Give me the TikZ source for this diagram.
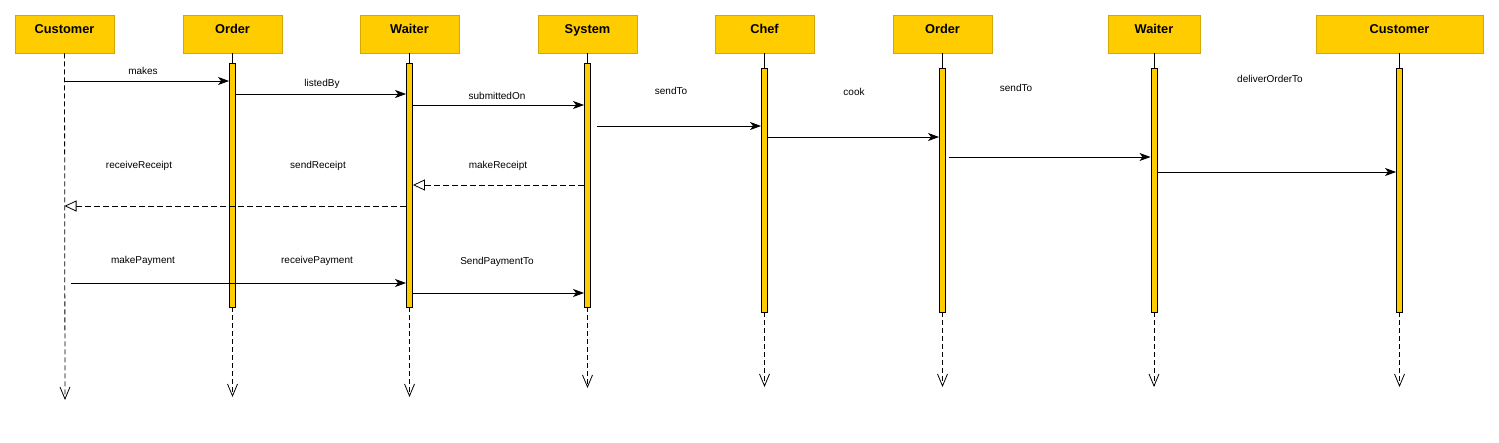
\documentclass[tikz,border=0pt]{standalone}
\usepackage{fontspec}
\setmainfont{Liberation Sans}
\usetikzlibrary{arrows.meta}
\definecolor{lifeyellow}{HTML}{FFCC00}
\definecolor{lifeedge}{HTML}{D4A800}
\tikzset{
    head/.style={draw=lifeedge, fill=lifeyellow, line width=0.9pt, minimum height=38, inner sep=0pt,
        text height=9pt, text depth=10.4pt, font=\fontsize{12.8}{14}\selectfont\bfseries},
    bar/.style={draw=black, fill=lifeyellow, line width=0.9pt, minimum width=6, inner sep=0pt},
    life/.style={line width=0.8pt, dash pattern=on 5pt off 3pt, -{Straight Barb[length=12pt,width=10pt]}},
    msg/.style={line width=0.8pt, -{Stealth[length=11pt,width=8pt,inset=3pt]}},
    reply/.style={line width=0.8pt, dash pattern=on 6pt off 3pt, -{Triangle[open,length=12pt,width=11pt,fill=white]}},
    lbl/.style={font=\fontsize{10}{12}\selectfont, inner sep=0pt}
}
\begin{document}
\begin{tikzpicture}[x=1pt, y=-1pt]
\useasboundingbox (0,0) rectangle (1499,442);

% heads
\foreach \n/\x/\w/\t in {c1/64.5/99/Customer, o1/232.5/99/Order, w1/409.5/99/Waiter, s/587.5/99/System,
    ch/764.5/99/Chef, o2/942.5/99/Order, w2/1154/92/Waiter, c2/1399.5/167/Customer}
    \node[head, minimum width=\w] (\n) at (\x,34) {\t};

% activation bars
\foreach \n/\y in {o1/185, w1/185, s/185, ch/190, o2/190, w2/190, c2/190}
    \node[bar, minimum height=244] (\n b) at (\n |- 0,\y) {};

% lifelines
\coordinate (c1end) at (65,400);
\draw[life] (c1.south) -- (c1end);
\foreach \n/\e in {o1/397, w1/397, s/388, ch/387, o2/387, w2/387, c2/387}{
    \draw[line width=0.8pt] (\n.south) -- (\n b.north);
    \coordinate (\n end) at (\n |- 0,\e);
    \draw[life] (\n b.south) -- (\n end);
}

% message heights
\foreach \m/\y in {m1/81, m2/94, m3/105, m4/126, m5/137, m6/157, m7/172, r1/185, r2/206, p1/283, p2/293}
    \coordinate (\m) at (0,\y);

\draw[msg] (c1 |- m1) -- (o1b.west |- m1);
\draw[msg] (o1b.east |- m2) -- (w1b.west |- m2);
\draw[msg] (w1b.east |- m3) -- (sb.west |- m3);
\draw[msg] ([xshift=6]sb.east |- m4) -- (chb.west |- m4);
\draw[msg] (chb.east |- m5) -- (o2b.west |- m5);
\draw[msg] ([xshift=3]o2b.east |- m6) -- (w2b.west |- m6);
\draw[msg] (w2b.east |- m7) -- (c2b.west |- m7);
\draw[reply] (sb.west |- r1) -- (w1b.east |- r1);
\draw[reply] (w1b.west |- r2) -- (c1 |- r2);
\draw[msg] ([xshift=6]c1.south |- p1) -- (w1b.west |- p1);
\draw[msg] (w1b.east |- p2) -- (sb.west |- p2);

% labels
\node[lbl] (lmakes) at (143,71) {makes};
\node[lbl] (llisted) at (322,84) {listedBy};
\node[lbl] (lsubmit) at (497,96) {submittedOn};
\node[lbl] (lsend) at (671,91) {sendTo};
\node[lbl] (lcook) at (854,92) {cook};
\node[lbl] (lsendb) at (1016,88) {sendTo};
\node[lbl] (ldeliver) at (1270,79) {deliverOrderTo};
\node[lbl] (lrecrec) at (139,166) {receiveReceipt};
\node[lbl] (lsendrec) at (318,166) {sendReceipt};
\node[lbl] (lmakerec) at (498,166) {makeReceipt};
\node[lbl] (lmakepay) at (143,261) {makePayment};
\node[lbl] (lrecpay) at (317,261) {receivePayment};
\node[lbl] (lsendpay) at (497,262) {SendPaymentTo};
\end{tikzpicture}
\end{document}
